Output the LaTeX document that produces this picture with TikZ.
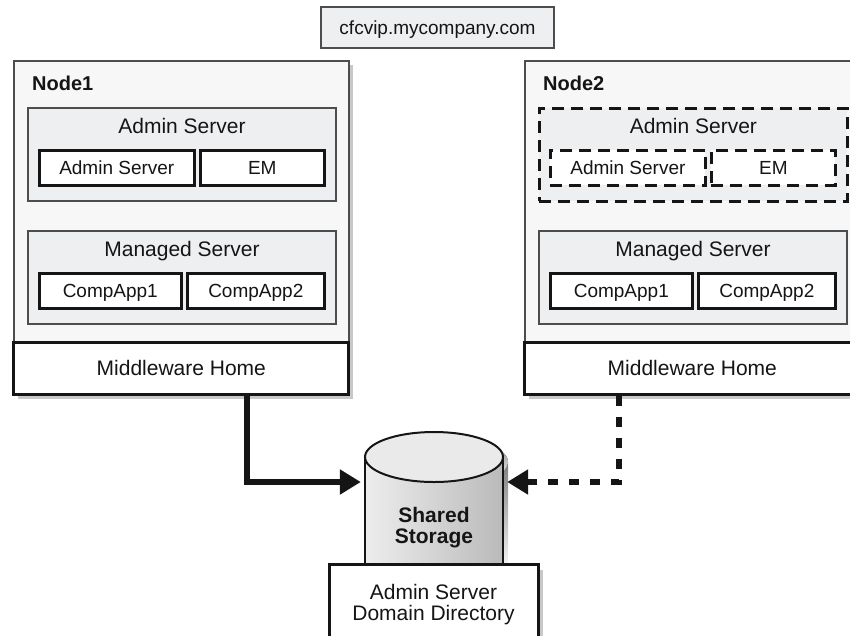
\documentclass[tikz,border=0pt]{standalone}
\usepackage{fontspec}
\setmainfont{Liberation Sans}
\usetikzlibrary{arrows.meta,shadows}
\definecolor{ink}{HTML}{151515}
\definecolor{frame}{HTML}{4D4D4D}
\definecolor{paper}{HTML}{F7F7F7}
\definecolor{panel}{HTML}{EEEFF1}
\definecolor{shade}{HTML}{C8C8C8}
\definecolor{drumtop}{HTML}{EAEAEA}
\tikzset{
  basebox/.style={inner sep=0pt,align=center,text=ink},
  hostbox/.style={basebox,draw=frame,fill=paper,line width=1.6pt,minimum width=335pt,minimum height=334pt,
    drop shadow={shadow xshift=4pt,shadow yshift=-4pt,fill=shade,opacity=1}},
  homebox/.style={basebox,draw=ink,fill=white,line width=3pt,minimum width=335pt,minimum height=52pt,
    font=\fontsize{21}{24}\selectfont,text height=15pt,text depth=0pt},
  grpbox/.style={basebox,draw=frame,fill=panel,line width=2pt,minimum width=308pt,minimum height=93pt},
  grpdash/.style={grpbox,draw=ink,line width=2.8pt,dash pattern=on 12pt off 7pt},
  appbox/.style={basebox,draw=ink,fill=white,line width=2.6pt,minimum height=35pt,
    font=\fontsize{19}{22}\selectfont,text height=13.6pt,text depth=0pt},
  appdash/.style={appbox,line width=2.8pt,dash pattern=on 12pt off 7pt},
  hdr/.style={basebox,font=\fontsize{21}{24}\selectfont,text height=15pt,text depth=0pt},
  namelbl/.style={basebox,font=\fontsize{20}{24}\selectfont\bfseries,text height=14.3pt,text depth=0pt},
  vipbox/.style={basebox,draw=frame,fill=panel,line width=1.8pt,minimum width=233pt,minimum height=41pt,
    font=\fontsize{19}{22}\selectfont,text height=13.6pt,text depth=0pt},
  dirbox/.style={basebox,draw=ink,fill=white,line width=3pt,minimum width=209pt,minimum height=80pt,
    font=\fontsize{21}{21}\selectfont,drop shadow={shadow xshift=5pt,shadow yshift=-5pt,fill=shade,opacity=1}},
  storelbl/.style={basebox,font=\fontsize{21}{21}\selectfont\bfseries},
  link/.style={-{Triangle[length=21pt,width=24pt]},line width=6pt,draw=ink,shorten >=4pt},
  dashlink/.style={link,dash pattern=on 10pt off 11pt}
}
\begin{document}
\begin{tikzpicture}[x=1pt,y=-1pt]
  \useasboundingbox (0,0) rectangle (850,635);
  \clip (0,0) rectangle (850,635);
  \node[vipbox] (vip) at (437.5,27.5) {cfcvip.mycompany.com};

  \foreach \k/\dx/\grp/\app in {1/0/grpbox/appbox,2/511/grpdash/appdash} {
    \node[hostbox,anchor=north west] (n\k) at (13+\dx,60) {};
    \node[homebox,anchor=south] (home\k) at (n\k.south) {Middleware Home};
    \node[namelbl,anchor=west] (lbl\k) at (32+\dx,83) {Node\k};

    \node[\grp,anchor=north west] (adm\k) at (27+\dx,107) {};
    \node[hdr] (admh\k) at ([yshift=-19pt]adm\k.north) {Admin Server};
    \node[\app,minimum width=155pt,anchor=north west] (as\k) at (38+\dx,149) {Admin Server};
    \node[\app,minimum width=124pt,anchor=north west] (em\k) at (199+\dx,149) {EM};

    \node[grpbox,anchor=north west] (mgd\k) at (27+\dx,230) {};
    \node[hdr] (mgdh\k) at ([yshift=-18.5pt]mgd\k.north) {Managed Server};
    \node[appbox,minimum width=142pt,anchor=north west] (ca\k) at (38+\dx,272) {CompApp1};
    \node[appbox,minimum width=137pt,anchor=north west] (cb\k) at (186+\dx,272) {CompApp2};
  }

  \fill[shade] (370,462) rectangle (508,575);
  \fill[shade] (439,462) ellipse [x radius=69,y radius=25];
  \shade[left color=black!7,right color=black!27] (365,457) rectangle (503,575);
  \draw[ink,line width=2pt] (365,457) -- (365,575) (503,457) -- (503,575);
  \draw[ink,line width=2pt,fill=drumtop] (434,457) ellipse [x radius=69,y radius=25];
  \node[basebox,minimum width=138pt,minimum height=50pt] (drum) at (434,482) {};
  \node[storelbl] (store) at (434,527.5) {Shared\\Storage};
  \node[dirbox,anchor=north] (dir) at (433.5,563) {Admin Server\\Domain Directory};

  \draw[link] ([xshift=65.5pt]home1.south) |- (drum.west);
  \draw[dashlink] ([xshift=-73.5pt]home2.south) |- (drum.east);
\end{tikzpicture}
\end{document}
